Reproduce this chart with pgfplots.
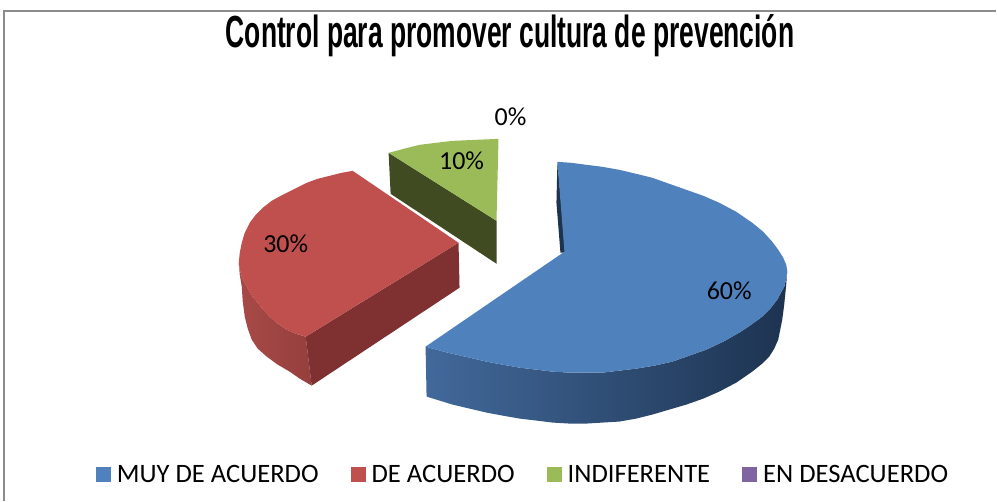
\documentclass[border=0pt]{standalone}
\usepackage{fontspec}
\setmainfont{Carlito}
\newfontfamily\titlefont[FakeStretch=0.588]{Liberation Sans}
\usepackage{pgfplots}
\pgfplotsset{compat=1.18}
\definecolor{blueTop}{HTML}{4F81BD}
\definecolor{blueDark}{HTML}{1D3350}
\definecolor{blueMid}{HTML}{27425F}
\definecolor{blueLight}{HTML}{42699B}
\definecolor{redTop}{HTML}{C0504D}
\definecolor{redDark}{HTML}{7E3130}
\definecolor{redLight}{HTML}{A84A47}
\definecolor{redMid}{HTML}{953F3D}
\definecolor{greenTop}{HTML}{9BBB59}
\definecolor{greenDark}{HTML}{404B22}
\definecolor{purpleKey}{HTML}{8064A2}
\begin{document}
\begin{tikzpicture}
\begin{axis}[
  width=997pt,height=501pt,scale only axis,
  xmin=0,xmax=997,ymin=0,ymax=501,y dir=reverse,
  hide axis,clip=false,
  title={\titlefont\bfseries\fontsize{45}{50}\selectfont Control para promover cultura de prevención},
  title style={at={(axis cs:510.5,42)},anchor=center,inner sep=0pt},
  legend columns=4,
  legend cell align=left,
  legend style={draw=none,fill=none,at={(axis cs:96,475)},anchor=west,inner sep=0pt,outer sep=0pt,
    font=\fontsize{26.6}{30}\selectfont,
    /tikz/every even column/.append style={column sep=30pt}},
  legend image code/.code={\path[#1,draw=none] (0pt,-7.5pt) rectangle (15pt,7.5pt);\path[draw=none,fill=none] (0pt,0pt) -- (19pt,0pt);},
]
% page extent
\addplot[forget plot,draw=none] coordinates {(0,0)(997,501)};
% frame
\addplot[forget plot,color=black!45,line width=2pt] coordinates {(4.5,501)(4.5,11.5)(997,11.5)};
% blue slice: outer wall
\addplot[forget plot,draw=none,left color=blueLight,middle color=blueMid,right color=blueDark] coordinates {
(426,347)(448,353)(470,358)(487,362)(503,365)(520,368)(537,370)(553,372)(570,373)(586,373)(603,373)(620,371)(637,369)(655,366)(673,362)(690,356)(707,350)(724,342)(740,333)(752,325)(763,317)(771,309)(778,300)(785,287)(787,279)(788,271)
(787,285)(785,305)(783,320)(781,330)(779,340)(775,349)(770,357)(763,364)(753,372)(737,383)(720,392)(704,399)(687,405)(670,410)(653,415)(637,419)(620,422)(603,423)(587,424)(570,424)(553,423)(537,421)(520,419)(503,416)(487,413)(470,409)(453,405)(440,401)(427,397)} -- cycle;
% blue inner wall
\addplot[forget plot,draw=none,fill=blueDark] coordinates {(558,162)(557,203)(561,253)(566,253)} -- cycle;
% blue top
\addplot[forget plot,draw=none,fill=blueTop] coordinates {
(558,162)(572,163)(587,165)(603,167)(620,170)(637,174)(653,178)(670,184)(687,190)(704,196)(720,203)(737,212)(753,223)(764,232)(773,242)(779,250)(784,258)(787,265)(788,271)(787,279)(785,287)(778,300)(771,309)(763,317)(752,325)(740,333)(724,342)(707,350)(690,356)(673,362)(655,366)(637,369)(620,371)(603,373)(586,373)(570,373)(553,372)(537,370)(520,368)(503,365)(487,362)(470,358)(448,353)(426,347)(565,252)} -- cycle;
% red slice: outer wall
\addplot[forget plot,draw=none,left color=redLight,right color=redMid] coordinates {
(239,263)(240,270)(242,277)(247,287)(253,297)(261,307)(270,317)(278,324)(287,330)(296,334)(306,337)(312,386)(300,379)(290,372)(278,365)(267,357)(258,349)(252,340)(248,329)(245,317)(243,302)(242,287)(240,275)} -- cycle;
% red cut wall
\addplot[forget plot,draw=none,fill=redDark] coordinates {(306,337)(459,243)(460,288)(312,386)} -- cycle;
% red top
\addplot[forget plot,draw=none,fill=redTop] coordinates {
(353,171)(459,243)(306,337)(296,334)(287,330)(278,324)(270,317)(261,307)(253,297)(247,287)(242,277)(240,270)(239,263)(240,253)(242,243)(245,233)(250,223)(256,215)(263,208)(272,201)(283,195)(295,189)(307,183)(318,179)(330,176)(342,173)} -- cycle;
% green slice
\addplot[forget plot,draw=none,fill=greenDark] coordinates {(389,153)(497,221)(497,264)(391,194)} -- cycle;
\addplot[forget plot,draw=none,fill=greenTop] coordinates {(389,153)(404,149)(420,145)(436,143)(453,141)(476,140)(499,139)(497,221)} -- cycle;
% labels
\node[font=\fontsize{26}{30}\selectfont] at (axis cs:511,117) {0\%};
\node[font=\fontsize{26}{30}\selectfont] at (axis cs:462,161) {10\%};
\node[font=\fontsize{26}{30}\selectfont] at (axis cs:286,244) {30\%};
\node[font=\fontsize{26}{30}\selectfont] at (axis cs:730,291) {60\%};
% legend
\addlegendimage{fill=blueTop}\addlegendentry{MUY DE ACUERDO}
\addlegendimage{fill=redTop}\addlegendentry{DE ACUERDO}
\addlegendimage{fill=greenTop}\addlegendentry{INDIFERENTE}
\addlegendimage{fill=purpleKey}\addlegendentry{EN DESACUERDO}
\end{axis}
\end{tikzpicture}
\end{document}
